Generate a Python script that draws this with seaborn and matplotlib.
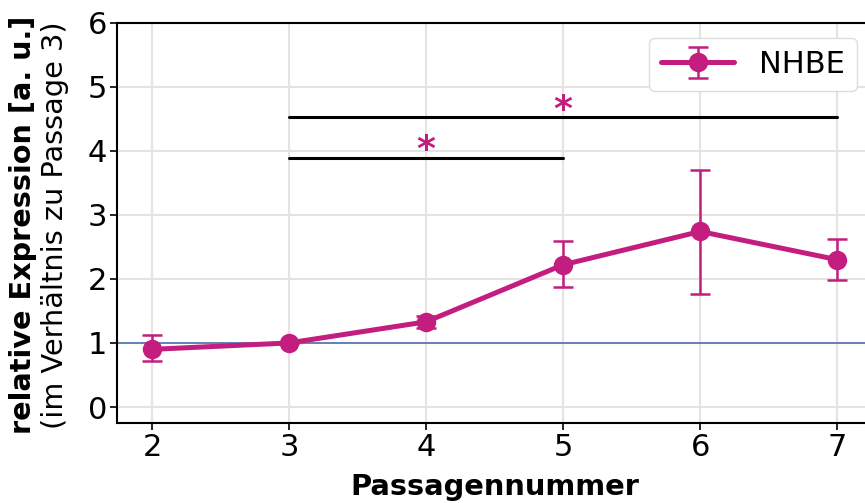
import matplotlib
matplotlib.use("Agg")
import matplotlib.pyplot as plt
import seaborn as sns
import pandas as pd
import numpy as np

# Passage numbers and mean relative expression (normalised to passage 3)
passages = [2, 3, 4, 5, 6, 7]
expression = [0.90, 1.00, 1.33, 2.22, 2.74, 2.30]
err_lower = [0.18, 0.00, 0.09, 0.34, 0.97, 0.32]
err_upper = [0.22, 0.00, 0.09, 0.37, 0.96, 0.33]

# Significance brackets: (start passage, end passage, bracket height, star height)
brackets = [(3, 5, 3.88, 4.13), (3, 7, 4.53, 4.75)]

series_label = "NHBE"
color = "#C21D7F"

df = pd.DataFrame({"Passage": passages, "Expression": expression})

sns.set_theme(style="whitegrid")
plt.rcParams["font.family"] = ["DejaVu Sans"]
plt.rcParams["text.color"] = "black"
plt.rcParams["axes.labelcolor"] = "black"
plt.rcParams["xtick.color"] = "black"
plt.rcParams["ytick.color"] = "black"

fig = plt.figure(figsize=(8.65, 5.03), dpi=100)
ax = fig.add_axes([0.1353, 0.159, 0.873, 0.796])

ax.axhline(1.0, color="#4C72B0", lw=1.2, zorder=2)

line = sns.lineplot(data=df, x="Passage", y="Expression", ax=ax, color=color,
                    lw=3.6, marker="o", markersize=14, markeredgewidth=0,
                    legend=False, zorder=4).lines[-1]
err = ax.errorbar(passages, expression, yerr=[err_lower, err_upper], fmt="none",
                  ecolor=color, elinewidth=1.8, capsize=7, capthick=1.8, zorder=3)

# Brackets with a star over the middle of each span
for x0, x1, yb, ys in brackets:
    ax.plot([x0, x1], [yb, yb], color="black", lw=2.2, zorder=3)
    ax.text((x0 + x1) / 2, ys - 0.12, "*", color=color, fontsize=26,
            fontweight="bold", ha="center", va="center", zorder=5)

ax.set_xlim(1.745, 7.255)
ax.set_ylim(-0.25, 6)
ax.set_xticks(passages)
ax.set_yticks(range(0, 7))
ax.tick_params(axis="both", labelsize=22, length=5, width=1.2, pad=2,
               color="black", labelcolor="black", direction="out",
               bottom=True, left=True)
ax.grid(True, color="#e8e2e2", lw=1.5)
for side in ["left", "bottom", "top", "right"]:
    ax.spines[side].set_color("black")
    ax.spines[side].set_linewidth(1.5)

ax.set_xlabel("Passagennummer", fontsize=20.8, fontweight="bold", labelpad=8,
              color="black")
ax.set_ylabel("")
fig.text(0.027, 0.553, "relative Expression [a. u.]", rotation=90, fontsize=20.7,
         fontweight="bold", ha="center", va="center", color="black")
fig.text(0.064, 0.553, "(im Verhältnis zu Passage 3)", rotation=90, fontsize=20.7,
         ha="center", va="center", color="black")

leg = ax.legend([(line, err)], [series_label], loc="upper right", fontsize=22,
                frameon=True, handlelength=2.4, borderaxespad=0.5,
                framealpha=1, edgecolor="#dddddd", fancybox=True)

fig.savefig("out.png", dpi=100)
